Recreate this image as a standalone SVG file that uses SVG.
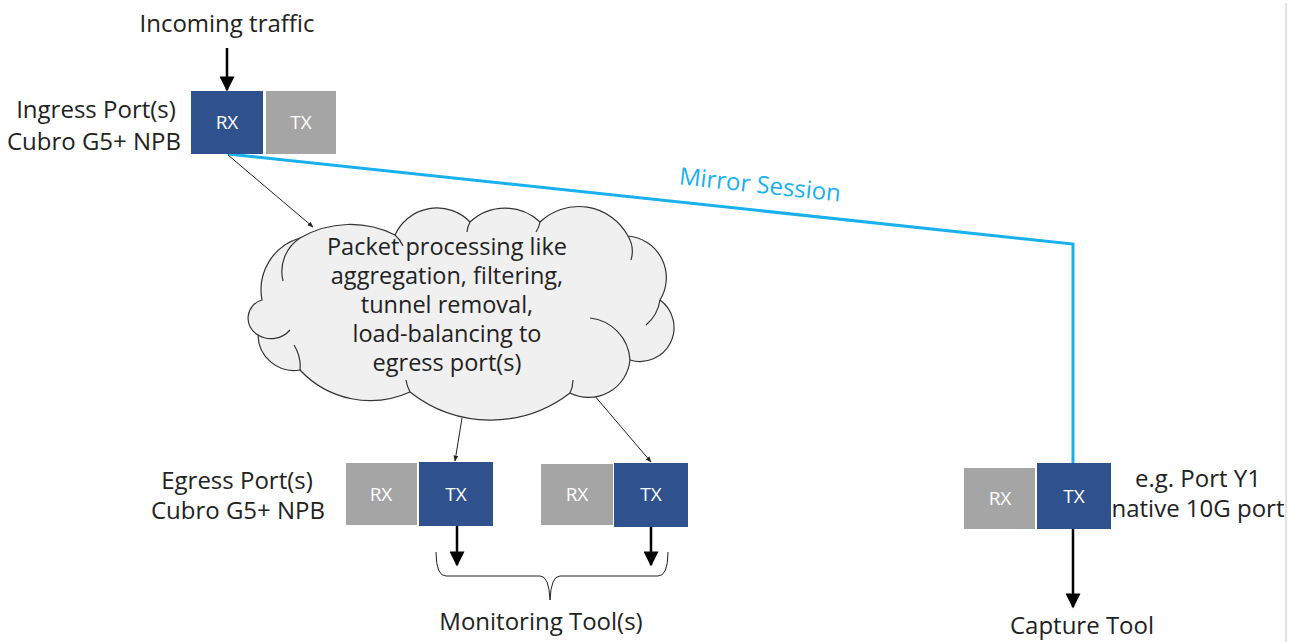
<svg xmlns="http://www.w3.org/2000/svg" width="1301" height="642" viewBox="0 0 1301 642">
<style>
text{font-family:"Open Sans","Noto Sans","Liberation Sans",sans-serif;}
.lbl{font-size:24px;fill:#222;}
.cl{font-size:23.5px;fill:#222;}
.box{font-size:19px;fill:#fff;text-anchor:middle;}
.blue{fill:#2F528F;}
.gray{fill:#A5A5A5;}
.thick{stroke:#000;stroke-width:2.5;fill:none;}
.thin{stroke:#222;stroke-width:1;fill:none;}
.mirror{stroke:#19B0EE;stroke-width:3;fill:none;}
</style>
<defs>
<marker id="ah" viewBox="0 0 10 10" refX="9" refY="5" markerWidth="7" markerHeight="6" orient="auto" markerUnits="strokeWidth">
<path d="M0,0 L10,5 L0,10 z" fill="#000"/>
</marker>
<marker id="ahs" viewBox="0 0 10 10" refX="9" refY="5" markerWidth="6" markerHeight="6" orient="auto" markerUnits="strokeWidth">
<path d="M0,1 L10,5 L0,9 z" fill="#222"/>
</marker>
</defs>
<rect width="1301" height="642" fill="#fff"/>
<line x1="1286" y1="3" x2="1286" y2="642" stroke="#C8C8C8" stroke-width="1"/>

<g id="connectors">
<polyline class="mirror" points="228,154 1073,244 1073,464"/>
<line class="thick" x1="227" y1="48" x2="227" y2="90" marker-end="url(#ah)"/>
<line class="thin" x1="228" y1="155" x2="313" y2="227" marker-end="url(#ahs)"/>
<line class="thin" x1="462" y1="418" x2="455" y2="461" marker-end="url(#ahs)"/>
<line class="thin" x1="588" y1="388" x2="651" y2="462" marker-end="url(#ahs)"/>
<line class="thick" x1="457" y1="526" x2="457" y2="565" marker-end="url(#ah)"/>
<line class="thick" x1="651" y1="527" x2="651" y2="565" marker-end="url(#ah)"/>
<line class="thick" x1="1073" y1="529" x2="1073" y2="607" marker-end="url(#ah)"/>
<path class="thin" stroke="#444" d="M436,552 Q436,576 446,576 L540,576 Q549,576 550,600 Q551,576 560,576 L658,576 Q668,576 668,552"/>
<text x="760" y="193" font-size="24" fill="#19B0EE" text-anchor="middle" transform="rotate(6.1 760 185)">Mirror Session</text>
</g>

<g id="incoming">
<text class="lbl" x="227" y="32" text-anchor="middle">Incoming traffic</text>
</g>

<g id="ingress">
<text class="lbl" x="96" y="118" text-anchor="middle">Ingress Port(s)</text>
<text class="lbl" x="94" y="150" text-anchor="middle">Cubro G5+ NPB</text>
<rect class="blue" x="191" y="91" width="72" height="63"/>
<text class="box" x="227" y="129">RX</text>
<rect class="gray" x="266" y="91" width="70" height="63"/>
<text class="box" x="301" y="129">TX</text>
</g>

<g id="cloud">
<path fill="#F0F0F0" stroke="#333" stroke-width="1.2" d="M262,300 A54,54 0 0 1 300,238 A100,100 0 0 1 395,235 A46,46 0 0 1 470,222 A51,51 0 0 1 540,222 A56,56 0 0 1 628,236 A42,42 0 0 1 660,300 A34,34 0 0 1 630,360 A41.5,41.5 0 0 1 570,393 A130,130 0 0 1 410,392 A96,96 0 0 1 300,370 A36,36 0 0 1 258,335 A19,19 0 0 1 262,300 Z"/>
<path fill="none" stroke="#333" stroke-width="1.2" d="M300,238 A40,40 0 0 0 283,281 M395,235 A30,30 0 0 1 403,246 M470,222 A25,25 0 0 0 467,232 M540,222 A25,25 0 0 1 536,232 M628,236 A30,30 0 0 1 631,260 M660,300 A40,40 0 0 1 646,325 M630,360 A45,45 0 0 0 590,318 M570,393 A30,30 0 0 0 573,380 M410,392 A40,40 0 0 1 406,380 M300,370 A40,40 0 0 0 294,345 M258,335 A25,25 0 0 0 290,330"/>
<text class="cl" x="447" y="255" text-anchor="middle">Packet processing like</text>
<text class="cl" x="447" y="284" text-anchor="middle">aggregation, filtering,</text>
<text class="cl" x="447" y="313" text-anchor="middle">tunnel removal,</text>
<text class="cl" x="447" y="342" text-anchor="middle">load-balancing to</text>
<text class="cl" x="447" y="371" text-anchor="middle">egress port(s)</text>
</g>

<g id="egress-label">
<text class="lbl" x="237" y="489" text-anchor="middle">Egress Port(s)</text>
<text class="lbl" x="238" y="519" text-anchor="middle">Cubro G5+ NPB</text>
</g>

<g id="egress1">
<rect class="gray" x="346" y="463" width="71" height="62"/>
<text class="box" x="381" y="501">RX</text>
<rect class="blue" x="419" y="462" width="74" height="64"/>
<text class="box" x="456" y="501">TX</text>
</g>

<g id="egress2">
<rect class="gray" x="541" y="464" width="72" height="61"/>
<text class="box" x="577" y="501">RX</text>
<rect class="blue" x="614" y="463" width="74" height="64"/>
<text class="box" x="651" y="501">TX</text>
</g>

<g id="monitoring">
<text class="lbl" x="541" y="630" text-anchor="middle">Monitoring Tool(s)</text>
</g>

<g id="capture-port">
<rect class="gray" x="964" y="468" width="71" height="61"/>
<text class="box" x="1000" y="505">RX</text>
<rect class="blue" x="1037" y="463" width="74" height="66"/>
<text class="box" x="1074" y="503">TX</text>
<text class="lbl" x="1198" y="487" text-anchor="middle">e.g. Port Y1</text>
<text class="lbl" x="1198" y="517" text-anchor="middle">native 10G port</text>
</g>

<g id="capture">
<text class="lbl" x="1082" y="634" text-anchor="middle">Capture Tool</text>
</g>
</svg>
